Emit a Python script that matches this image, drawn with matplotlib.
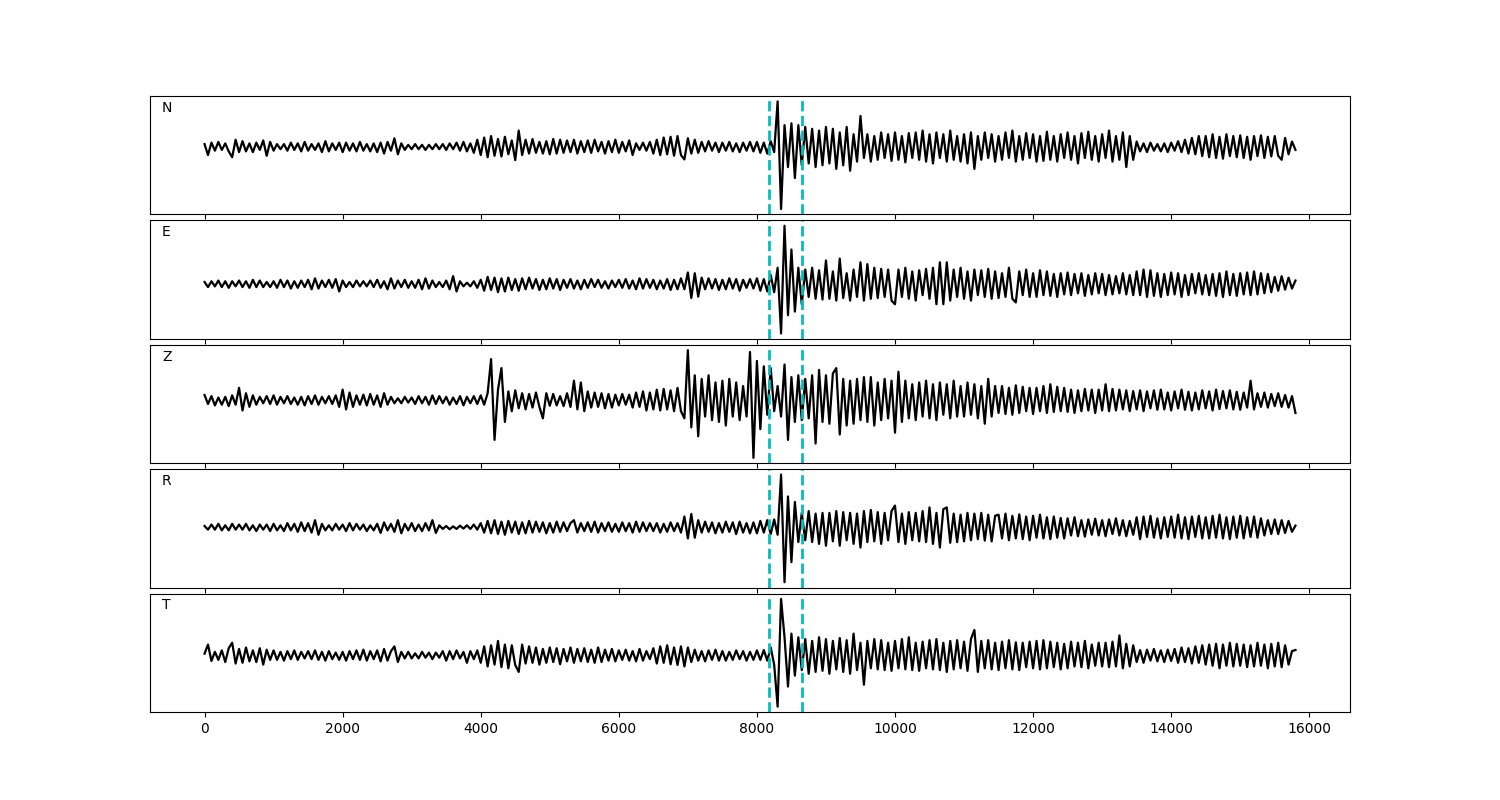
import numpy as np
import matplotlib
matplotlib.use('Agg')
import matplotlib.pyplot as plt

#############################################################
# traces, one value every 50 samples (0 .. 15800)

STEP = 50
PICKS = [8170, 8660]
COMPONENTS = ['N', 'E', 'Z', 'R', 'T']

n_amp = [
    8, -22, 12, -10, 14, -8, 10, -12, -28, 20,
    -14, 16, -12, 10, -14, 12, -8, 18, -24, 14,
    -10, 8, -6, 8, -10, 12, -8, 10, -12, 14,
    -10, 8, -8, 10, -14, 16, -12, 10, -8, 12,
    -14, 12, -10, 10, -12, 14, -10, 8, -12, 10,
    -14, 12, -18, 14, -10, 24, -20, 10, -8, 6,
    -6, 8, -6, 6, -8, 6, -6, 8, -6, 8,
    -8, 10, -6, 12, -10, 14, -12, 10, -16, 20,
    -22, 26, -28, 30, -24, 22, -26, 28, -20, 18,
    -36, 45, -22, 20, -18, 22, -16, 14, -18, 16,
    -20, 22, -18, 20, -16, 18, -14, 20, -18, 16,
    -14, 18, -16, 20, -12, 14, -18, 16, -14, 20,
    -16, 14, -12, 18, -22, 10, -8, 12, -10, 14,
    -18, 20, -22, 26, -20, 28, -24, 30, -22, -34,
    24, -18, 20, -16, 14, -12, 16, -10, 12, -14,
    12, -10, 14, -12, 10, -14, 12, -10, 14, -12,
    14, -16, 12, -18, 16, -14, 125, -170, 60, -55,
    65, -85, 60, -50, 55, -45, 50, -55, 45, -50,
    55, -45, 50, -60, 40, -50, 55, -65, 35, -40,
    85, -30, 35, -40, 30, -35, 40, -30, 35, -38,
    40, -35, 30, -42, 38, -30, 40, -35, 45, -40,
    35, -45, 40, -30, 35, -40, 45, -35, 30, -40,
    35, -45, 40, -60, 30, -35, 40, -30, 35, -40,
    30, -35, 40, -30, 45, -40, 30, -35, 38, -30,
    35, -40, 30, -38, 42, -35, 30, -40, 35, -30,
    40, -35, 30, -45, 38, -30, 42, -35, 30, -40,
    35, -30, 45, -40, 30, -35, 40, -55, 30, -35,
    15, -12, 10, -14, 12, -10, 8, -12, 10, -14,
    12, -10, 16, -14, 20, -18, 25, -20, 30, -25,
    30, -28, 35, -30, 28, -32, 35, -25, 30, -28,
    32, -30, 28, -35, 30, -25, 32, -30, 28, -26,
    30, -24, -35, 25, -20, 15, -8,
]

e_amp = [
    6, -8, 8, -6, 10, -8, 8, -10, 8, -6,
    10, -8, 8, -10, 12, -8, 10, -8, 6, -8,
    8, -10, 12, -8, 10, -12, 8, -10, 10, -8,
    12, -14, 16, -12, 10, -8, 12, -10, 14, -20,
    10, -8, 6, -8, 10, -6, 8, -6, 10, -8,
    12, -10, 8, -14, 16, -12, 10, -8, 12, -10,
    8, -10, 12, -14, 16, -12, 10, -8, 6, -8,
    10, -14, 22, -20, 8, -6, 4, -6, 8, -10,
    12, -18, 20, -16, 18, -22, 16, -20, 18, -16,
    14, -18, 16, -14, 18, -12, 14, -16, 12, -14,
    16, -12, 14, -16, 12, -10, 14, -12, 10, -14,
    12, -10, 14, -8, 12, -10, 8, -12, 10, -8,
    12, -10, 14, -12, 10, -14, 16, -12, 14, -10,
    12, -14, 10, -12, 14, -16, 12, -14, 16, -14,
    32, -38, 30, -34, 18, -14, 16, -12, 14, -16,
    12, -14, 16, -12, 14, -18, 12, -10, 14, -12,
    16, -18, 14, -20, 25, -22, 45, -135, 160, -85,
    95, -75, 45, -55, 40, -35, 45, -40, 38, -42,
    65, -40, 35, -45, 70, -38, 30, -45, 40, -35,
    60, -45, 55, -40, 45, -38, 42, -35, 40, -45,
    -55, 40, -35, 45, -40, 35, -45, 38, -30, 42,
    -40, 45, -55, 60, -55, 60, -45, 40, -35, 45,
    -40, 35, -45, 40, -30, 38, -35, 42, -40, 35,
    -38, 30, -35, 45, -40, -50, 35, -30, 40, -35,
    30, -35, 38, -30, 35, -32, 28, -35, 30, -28,
    32, -30, 28, -25, 30, -32, 25, -28, 30, -25,
    28, -30, 25, -28, 22, -25, 30, -28, 25, -30,
    35, -30, 40, -35, 38, -32, 30, -35, 28, -30,
    32, -28, 30, -35, 25, -30, 28, -25, 30, -28,
    25, -30, 28, -32, 30, -35, 35, -30, 28, -32,
    30, -28, 32, -30, 35, -28, 30, -25, 28, -22,
    20, -18, 22, -15, 18, -12, 10,
]

z_amp = [
    15, -10, 12, -14, 8, -12, 10, -16, 14, -12,
    35, -28, 20, -18, 14, -12, 10, -8, 12, -10,
    14, -12, 10, -8, 12, -10, 8, -12, 10, -14,
    12, -10, 14, -12, 10, -8, 12, -10, 14, -18,
    30, -25, 22, -18, 14, -12, 16, -14, 18, -12,
    14, -18, 20, -12, 10, -8, 6, -8, 10, -6,
    8, -10, 12, -8, 10, -12, 14, -10, 12, -8,
    10, -12, 8, -10, 12, -14, 10, -8, 12, -10,
    14, -12, 20, 115, -110, 30, 90, -60, 25, -30,
    28, -22, 20, -25, 18, -20, 22, -18, -50, 20,
    -15, 18, -14, 12, -16, 20, -18, 55, -25, 50,
    -30, 25, -20, 22, -18, 20, -22, 18, -20, 16,
    -14, 18, -12, 16, -20, 22, -18, 25, -28, 22,
    -25, 30, -28, 32, -25, 28, -30, 35, -30, -50,
    140, -75, 70, -100, 60, -45, 70, -55, 50, -60,
    55, -70, 60, -45, 50, -55, 40, -45, 135, -160,
    110, -80, 95, -40, 90, -30, 40, -45, 100, -110,
    65, -60, 70, -55, 60, -50, 70, -120, 85, -60,
    70, -65, 75, 90, -95, 60, -70, 55, -65, 60,
    -55, 65, -60, 65, -70, 50, -55, 60, -50, 55,
    -90, 80, -60, 55, -50, 45, -55, 50, -45, 55,
    -50, 45, -55, 50, -40, 45, -50, 55, -45, 40,
    -45, 50, -40, 45, -50, 40, -65, 60, -45, 40,
    -35, 40, -38, 35, -40, 42, -35, 38, -30, 35,
    -38, 35, -30, 40, -35, 45, -32, 38, -30, 35,
    -32, 30, -35, 28, -30, 32, -28, 30, -35, 30,
    -28, 45, -30, 32, -28, 30, -25, 28, -30, 26,
    -25, 28, -30, 25, -22, 28, -26, 30, -25, 22,
    -28, 25, -22, 30, -26, 24, -28, 22, -25, 28,
    -22, 25, -28, 30, -24, 26, -22, 28, -25, 24,
    -26, 22, -20, 55, -25, 20, -18, 22, -20, 18,
    -16, 20, -18, 15, -20, 12, -35,
]

r_amp = [
    4, -6, 8, -6, 10, -8, 6, -8, 10, -6,
    8, -6, 10, -8, 6, -10, 8, -6, 8, -10,
    10, -8, 6, -10, 12, -8, 10, -12, 14, -10,
    12, -14, 20, -20, 10, -8, 6, -8, 10, -6,
    8, -10, 12, -8, 10, -6, 8, -10, 6, -8,
    10, -15, 14, -8, 10, -12, 20, -16, 10, -8,
    12, -10, 8, -10, 12, -8, 20, -15, 6, -4,
    4, -5, 3, -4, 5, -3, 6, -4, 8, -6,
    12, -14, 18, -16, 20, -18, 16, -20, 18, -14,
    16, -18, 14, -16, 18, -14, 16, -12, 14, -16,
    12, -14, 16, -12, 14, -10, 12, 20, -14, 12,
    -10, 14, -12, 16, -14, 12, -10, 14, -12, 10,
    -12, 14, -10, 12, -14, 16, -12, 14, -10, 12,
    -10, 12, -14, 10, -12, 14, -10, 12, -14, 30,
    -30, 37, -28, 20, -14, 16, -12, 14, -16, 12,
    -14, 16, -12, 14, -18, 16, -14, 12, -16, 14,
    -16, 18, -14, 20, -18, 22, -20, 145, -150, 85,
    -95, 70, -40, 40, -35, 45, -40, 38, -45, 40,
    -50, 40, -38, 45, -50, 42, -35, 40, -45, 38,
    -55, 45, -40, 48, -38, 42, -45, 40, -35, 45,
    60, -40, 38, -45, 42, -35, 40, -38, 45, -40,
    55, -45, 40, -55, 50, 55, -42, 38, -40, 35,
    -38, 40, -35, 38, -32, 40, -36, 35, -38, 32,
    35, -30, 38, -35, 32, -30, 36, -32, 30, -35,
    32, -28, 35, -30, 28, -32, 30, -28, 26, -30,
    25, -22, 28, -24, 20, -25, 22, -20, 24, -22,
    20, -24, 22, -18, 25, -22, 20, -24, 18, -20,
    28, -32, 30, -26, 32, -28, 25, -30, 28, -26,
    30, -28, 35, -30, 28, -32, 30, -26, 32, -30,
    28, -30, 32, -28, 35, -30, 28, -32, 30, -28,
    32, -30, 28, -26, 30, -28, 25, -22, 20, -18,
    22, -18, 20, -15, 18, -12, 5,
]

t_amp = [
    5, 30, -15, 10, -12, 14, -18, 20, 35, -22,
    18, -20, 22, -16, 14, -18, 20, -25, 16, -12,
    14, -12, 10, -14, 12, -10, 14, -12, 10, -8,
    12, -10, 14, -12, 10, -14, 12, -10, 8, -12,
    10, -14, 12, -10, 14, -12, 16, -14, 12, -10,
    14, -16, 18, -14, 12, 25, -18, 10, -8, 10,
    -8, 6, -8, 10, -6, 8, -10, 8, -6, 12,
    -14, 12, -10, 14, -8, 10, -20, 12, -10, 14,
    -20, 25, -30, 28, -25, 40, -32, 30, -35, 28,
    -26, -45, 30, -22, 25, -20, 22, -25, 18, -20,
    22, -18, 20, -24, 18, -16, 22, -20, 18, -16,
    20, -18, 16, -20, 22, -18, 16, -14, 18, -16,
    14, -12, 16, -14, 12, -16, 18, -14, 12, -10,
    20, -22, 25, -20, 28, -24, 22, -26, 25, -30,
    22, -18, 16, -14, 12, -16, 14, -12, 16, -14,
    12, -14, 10, -12, 14, -10, 12, -14, 10, -12,
    14, -12, 15, -14, 22, -25, -140, 155, 50, -85,
    60, -55, 50, -40, 45, -50, 40, -45, 50, -42,
    45, -50, 40, -38, 48, -45, 42, -50, 60, -40,
    35, -80, 40, -35, 45, -38, 42, -40, 35, -42,
    40, -35, 45, -38, 50, -40, 35, -42, 38, -35,
    42, -38, 45, -40, 35, -45, 40, -38, 42, -35,
    38, -42, 45, 70, -45, 40, -35, 42, -38, 35,
    -40, 38, -35, 42, -38, 36, -40, 35, -32, 38,
    -35, 40, -38, 42, -35, 38, -32, 35, -38, 32,
    -35, 38, -30, 35, -32, 40, -35, 30, -28, 35,
    -30, 35, -32, 38, -30, 55, -35, 32, -30, 28,
    -18, 15, -20, 16, -14, 18, -16, 14, -18, 16,
    -15, 18, -20, 22, -18, 20, -22, 25, -20, 28,
    -25, 30, -28, 32, -35, 30, -28, 35, -30, 32,
    -28, 30, -32, 28, -30, 35, -28, 30, -35, 32,
    -30, 35, -32, 28, -25, 12, 15,
]

#############################################################

traces = [n_amp, e_amp, z_amp, r_amp, t_amp]

fig, axes = plt.subplots(5, 1, sharex=True, figsize=(15, 8))
fig.subplots_adjust(left=0.1, right=0.9, top=0.88, bottom=0.11, hspace=0.05)

for ax, name, amp in zip(axes, COMPONENTS, traces):
    x = np.arange(len(amp)) * STEP
    ax.plot(x, amp, color='k', lw=1.6)
    for p in PICKS:
        ax.axvline(p, color='c', ls='--', lw=2)
    ax.set_yticks([])
    ax.text(0.01, 0.9, name, transform=ax.transAxes, va='center', fontsize=10)

fig.savefig('out.png', dpi=100)
